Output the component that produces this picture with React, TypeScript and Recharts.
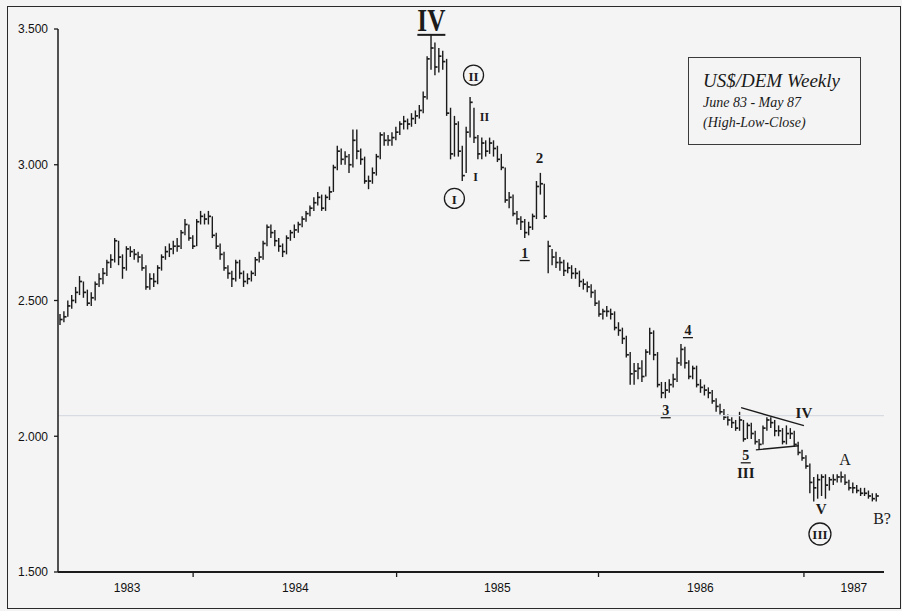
import { ComposedChart, Bar, XAxis, YAxis, ReferenceDot, ReferenceLine } from 'recharts';

// weekly US$/DEM, week 0 = late May 1983
const CLOSE = [
  2.43, 2.44, 2.48, 2.50, 2.53, 2.57, 2.53, 2.49, 2.51, 2.56,
  2.58, 2.60, 2.64, 2.65, 2.72, 2.66, 2.62, 2.69, 2.68, 2.67,
  2.66, 2.62, 2.55, 2.58, 2.57, 2.62, 2.66, 2.68, 2.69, 2.70,
  2.70, 2.75, 2.78, 2.73, 2.70, 2.79, 2.81, 2.80, 2.81, 2.74,
  2.70, 2.67, 2.62, 2.60, 2.58, 2.64, 2.60, 2.57, 2.58, 2.60,
  2.65, 2.66, 2.71, 2.77, 2.75, 2.72, 2.70, 2.68, 2.73, 2.75,
  2.76, 2.78, 2.80, 2.82, 2.84, 2.86, 2.88, 2.84, 2.88, 2.90,
  2.99, 3.05, 3.02, 3.03, 3.00, 3.09, 3.05, 3.02, 2.94, 2.94,
  2.97, 3.03, 3.11, 3.09, 3.09, 3.10, 3.12, 3.15, 3.16, 3.15,
  3.17, 3.18, 3.20, 3.25, 3.39, 3.43, 3.36, 3.40, 3.38, 3.19,
  3.04, 3.15, 3.05, 2.96, 3.12, 3.23, 3.10, 3.04, 3.08, 3.05,
  3.08, 3.06, 3.02, 2.99, 2.87, 2.88, 2.82, 2.80, 2.79, 2.75,
  2.77, 2.81, 2.92, 2.93, 2.81, 2.70, 2.66, 2.64, 2.64, 2.61,
  2.62, 2.60, 2.60, 2.57, 2.56, 2.55, 2.53, 2.49, 2.45, 2.46,
  2.46, 2.45, 2.40, 2.39, 2.36, 2.30, 2.23, 2.24, 2.25, 2.22,
  2.31, 2.38, 2.30, 2.19, 2.16, 2.17, 2.19, 2.21, 2.27, 2.32,
  2.27, 2.22, 2.25, 2.19, 2.18, 2.17, 2.16, 2.13, 2.11, 2.09,
  2.07, 2.06, 2.05, 2.03, 2.06, 1.99, 2.04, 2.01, 1.98, 1.97,
  2.03, 2.06, 2.05, 2.02, 2.02, 1.98, 2.01, 2.01, 1.97, 1.94,
  1.92, 1.89, 1.83, 1.81, 1.84, 1.85, 1.82, 1.84, 1.84, 1.85,
  1.85, 1.83, 1.81, 1.81, 1.80, 1.79, 1.79, 1.78, 1.77, 1.78,
];

const HIGH = [
  2.45, 2.46, 2.50, 2.52, 2.55, 2.59, 2.57, 2.54, 2.53, 2.57,
  2.60, 2.62, 2.65, 2.67, 2.73, 2.72, 2.67, 2.70, 2.70, 2.69,
  2.68, 2.67, 2.63, 2.60, 2.60, 2.63, 2.67, 2.70, 2.71, 2.72,
  2.73, 2.76, 2.80, 2.78, 2.74, 2.80, 2.83, 2.82, 2.83, 2.81,
  2.75, 2.71, 2.68, 2.63, 2.61, 2.65, 2.65, 2.61, 2.60, 2.61,
  2.66, 2.68, 2.72, 2.78, 2.78, 2.76, 2.73, 2.71, 2.74, 2.76,
  2.78, 2.79, 2.81, 2.83, 2.85, 2.88, 2.90, 2.89, 2.89, 2.92,
  3.00, 3.07, 3.06, 3.05, 3.04, 3.13, 3.13, 3.06, 3.03, 2.96,
  2.99, 3.04, 3.12, 3.12, 3.11, 3.12, 3.14, 3.16, 3.18, 3.17,
  3.19, 3.20, 3.22, 3.27, 3.40, 3.48, 3.45, 3.43, 3.42, 3.39,
  3.21, 3.18, 3.16, 3.07, 3.14, 3.25, 3.21, 3.11, 3.10, 3.09,
  3.10, 3.09, 3.07, 3.04, 2.99, 2.90, 2.89, 2.83, 2.81, 2.80,
  2.79, 2.82, 2.94, 2.97, 2.93, 2.72, 2.69, 2.68, 2.66, 2.65,
  2.64, 2.63, 2.62, 2.61, 2.58, 2.57, 2.56, 2.54, 2.50, 2.47,
  2.48, 2.47, 2.46, 2.42, 2.40, 2.37, 2.31, 2.27, 2.27, 2.28,
  2.32, 2.40, 2.39, 2.31, 2.20, 2.20, 2.21, 2.23, 2.29, 2.34,
  2.33, 2.28, 2.26, 2.26, 2.21, 2.19, 2.18, 2.17, 2.14, 2.12,
  2.10, 2.08, 2.07, 2.06, 2.09, 2.06, 2.05, 2.05, 2.02, 1.99,
  2.04, 2.07, 2.07, 2.06, 2.04, 2.03, 2.04, 2.03, 2.02, 1.98,
  1.95, 1.93, 1.90, 1.85, 1.86, 1.86, 1.86, 1.85, 1.86, 1.86,
  1.87, 1.86, 1.84, 1.83, 1.82, 1.81, 1.81, 1.80, 1.79, 1.79,
];

const LOW = [
  2.41, 2.42, 2.44, 2.47, 2.49, 2.52, 2.51, 2.48, 2.48, 2.50,
  2.55, 2.56, 2.59, 2.62, 2.64, 2.63, 2.58, 2.61, 2.66, 2.65,
  2.64, 2.61, 2.54, 2.54, 2.55, 2.56, 2.61, 2.65, 2.66, 2.67,
  2.68, 2.69, 2.74, 2.72, 2.69, 2.70, 2.78, 2.78, 2.78, 2.73,
  2.69, 2.65, 2.61, 2.58, 2.55, 2.57, 2.58, 2.55, 2.56, 2.57,
  2.59, 2.64, 2.65, 2.70, 2.73, 2.70, 2.68, 2.66, 2.67, 2.72,
  2.73, 2.75, 2.77, 2.79, 2.81, 2.83, 2.85, 2.83, 2.83, 2.87,
  2.90, 2.98, 3.00, 3.00, 2.97, 2.99, 3.02, 3.00, 2.93, 2.91,
  2.93, 2.96, 3.02, 3.07, 3.07, 3.07, 3.09, 3.11, 3.13, 3.13,
  3.14, 3.15, 3.17, 3.19, 3.24, 3.35, 3.33, 3.34, 3.35, 3.18,
  3.02, 3.03, 3.03, 2.94, 2.97, 3.10, 3.08, 3.02, 3.02, 3.03,
  3.04, 3.03, 3.01, 2.98, 2.86, 2.84, 2.81, 2.78, 2.76, 2.73,
  2.74, 2.76, 2.80, 2.89, 2.80, 2.60, 2.63, 2.62, 2.61, 2.59,
  2.60, 2.58, 2.58, 2.55, 2.54, 2.53, 2.51, 2.48, 2.44, 2.43,
  2.44, 2.43, 2.39, 2.37, 2.34, 2.29, 2.19, 2.19, 2.21, 2.20,
  2.22, 2.30, 2.28, 2.18, 2.14, 2.14, 2.16, 2.18, 2.20, 2.26,
  2.25, 2.21, 2.21, 2.18, 2.16, 2.15, 2.14, 2.12, 2.09, 2.08,
  2.06, 2.04, 2.03, 2.02, 2.02, 1.98, 1.99, 1.99, 1.97, 1.95,
  1.97, 2.02, 2.03, 2.00, 2.00, 1.97, 1.97, 1.99, 1.96, 1.93,
  1.91, 1.88, 1.79, 1.76, 1.77, 1.78, 1.77, 1.80, 1.82, 1.83,
  1.83, 1.82, 1.80, 1.79, 1.79, 1.78, 1.78, 1.77, 1.76, 1.76,
];

// x axis: week of each Jan 1 and the week where each year label sits
const YEAR_STARTS = [34.1, 86.2, 137.9, 190.5];
const YEAR_LABELS = ['1983', '1984', '1985', '1986', '1987'];
const YEAR_LABEL_WEEKS = [17.2, 60.3, 112, 164, 203.3];
const Y_TICKS = [1.5, 2, 2.5, 3, 3.5];

// Elliott wave labels (week, price)
const WAVE_LABELS = [
  { text: 'IV', week: 95.1, value: 3.53, kind: 'big' },
  { text: 'II', week: 105.9, value: 3.33, kind: 'circle' },
  { text: 'II', week: 108.7, value: 3.175, kind: 'small' },
  { text: 'I', week: 106.4, value: 2.954, kind: 'small' },
  { text: 'I', week: 101, value: 2.876, kind: 'circle' },
  { text: '2', week: 122.8, value: 3.024, kind: 'num' },
  { text: '1', week: 119, value: 2.673, kind: 'under' },
  { text: '4', week: 160.8, value: 2.389, kind: 'under' },
  { text: '3', week: 155.1, value: 2.094, kind: 'under' },
  { text: 'IV', week: 190.5, value: 2.087, kind: 'mid' },
  { text: '5', week: 175.6, value: 1.928, kind: 'under' },
  { text: 'III', week: 175.6, value: 1.865, kind: 'mid' },
  { text: 'V', week: 194.9, value: 1.732, kind: 'mid' },
  { text: 'III', week: 194.6, value: 1.64, kind: 'circle' },
  { text: 'A', week: 201, value: 1.913, kind: 'letter' },
  { text: 'B?', week: 210.5, value: 1.696, kind: 'letter' },
];

// triangle boundaries of wave IV
const TRIANGLE = [
  [{ x: 174.4, y: 2.105 }, { x: 190.5, y: 2.039 }],
  [{ x: 178.2, y: 1.95 }, { x: 189.2, y: 1.965 }],
];

const data = CLOSE.map((close, i) => ({
  week: i,
  range: [LOW[i], HIGH[i]],
  high: HIGH[i],
  low: LOW[i],
  close,
}));

const INK = '#1b1b1b';
const SERIF = '"Liberation Serif", "Times New Roman", serif';
const SANS = '"Liberation Sans", Arial, sans-serif';

function HlcBar(props: any) {
  const { x, y, width, height, payload } = props;
  if (x == null || y == null) return null;
  const top = Math.min(y, y + height);
  const h = Math.abs(height);
  const cx = x + width / 2;
  const span = payload.high - payload.low;
  const cy = top + (span > 0 ? (h * (payload.high - payload.close)) / span : 0);
  return (
    <g>
      <line x1={cx} x2={cx} y1={top} y2={top + h} stroke={INK} strokeWidth={1.4} />
      <line x1={cx} x2={cx + 2.6} y1={cy} y2={cy} stroke={INK} strokeWidth={1.7} />
    </g>
  );
}

function YearTick(props: any) {
  const { x, y, payload } = props;
  const idx = YEAR_LABEL_WEEKS.indexOf(payload.value);
  if (idx >= 0) {
    return (
      <text x={x} y={y + 20} textAnchor="middle" fontSize={12} fontFamily={SANS} fill="#111">
        {YEAR_LABELS[idx]}
      </text>
    );
  }
  return <line x1={x} x2={x} y1={y} y2={y + 5} stroke={INK} strokeWidth={1.3} />;
}

function WaveMark(props: any) {
  const { cx, cy, label } = props;
  if (cx == null || cy == null) return null;
  const common = { textAnchor: 'middle' as const, dominantBaseline: 'central' as const, fill: INK, fontFamily: SERIF };
  if (label.kind === 'big') {
    return (
      <g>
        <text x={cx} y={cy} {...common} fontSize={31} fontWeight="bold" textLength={28} lengthAdjust="spacingAndGlyphs">
          {label.text}
        </text>
        <line x1={cx - 14} x2={cx + 14} y1={cy + 14} y2={cy + 14} stroke={INK} strokeWidth={2} />
      </g>
    );
  }
  if (label.kind === 'circle') {
    const r = label.text.length > 2 ? 11 : 10;
    return (
      <g>
        <circle cx={cx} cy={cy} r={r} fill="none" stroke={INK} strokeWidth={1.3} />
        <text x={cx} y={cy + 1} {...common} fontSize={13} fontWeight="bold">
          {label.text}
        </text>
      </g>
    );
  }
  if (label.kind === 'under') {
    return (
      <g>
        <text x={cx} y={cy} {...common} fontSize={14} fontWeight="bold">
          {label.text}
        </text>
        <line x1={cx - 5} x2={cx + 5} y1={cy + 7} y2={cy + 7} stroke={INK} strokeWidth={1.3} />
      </g>
    );
  }
  const size = label.kind === 'small' ? 12 : label.kind === 'letter' ? 16 : 15;
  const weight = label.kind === 'letter' ? 'normal' : 'bold';
  return (
    <text x={cx} y={cy} {...common} fontSize={size} fontWeight={weight}>
      {label.text}
    </text>
  );
}

export default function App() {
  return (
    <div style={{ position: 'absolute', left: 0, top: 0, width: 902, height: 611, background: '#f4f4f4' }}>
      <div
        style={{
          position: 'absolute',
          left: 7,
          top: 6,
          width: 892,
          height: 601,
          border: '1.5px solid #2a2a2a',
        }}
      />
      <div style={{ position: 'absolute', left: 0, top: 0 }}>
        <ComposedChart width={902} height={611} data={data} margin={{ top: 29, right: 18, bottom: 9, left: 8 }}>
          <XAxis
            dataKey="week"
            type="number"
            domain={[-0.5, 211]}
            ticks={[...YEAR_STARTS, ...YEAR_LABEL_WEEKS]}
            tick={<YearTick />}
            tickLine={false}
            tickSize={0}
            tickMargin={0}
            height={30}
            axisLine={{ stroke: INK, strokeWidth: 2 }}
            interval={0}
            allowDataOverflow
          />
          <YAxis
            type="number"
            domain={[1.5, 3.5]}
            ticks={Y_TICKS}
            tickFormatter={(v: number) => v.toFixed(3)}
            width={50}
            tickSize={4}
            tickMargin={6}
            tick={{ fontSize: 12, fontFamily: SANS, fill: '#111' }}
            tickLine={{ stroke: INK, strokeWidth: 1.3 }}
            axisLine={{ stroke: INK, strokeWidth: 1.5 }}
            allowDataOverflow
          />
          <ReferenceLine y={2.076} stroke="#d9dbe3" strokeWidth={1.2} />
          <Bar dataKey="range" barSize={2} shape={<HlcBar />} isAnimationActive={false} />
          {TRIANGLE.map((seg, i) => (
            <ReferenceLine key={i} segment={seg} stroke={INK} strokeWidth={1.3} ifOverflow="visible" />
          ))}
          {WAVE_LABELS.map((w, i) => (
            <ReferenceDot
              key={i}
              x={w.week}
              y={w.value}
              r={0}
              ifOverflow="visible"
              shape={(p: any) => <WaveMark {...p} label={w} />}
            />
          ))}
        </ComposedChart>
      </div>
      <svg style={{ position: 'absolute', left: 0, top: 0 }} width={902} height={611}>
        <rect x={688.5} y={57.5} width={172} height={87} fill="none" stroke="#3a3a3a" strokeWidth={1} />
        <text x={703} y={87} fontFamily={SERIF} fontStyle="italic" fontSize={19} fill="#1a1a1a">
          US$/DEM Weekly
        </text>
        <text x={703} y={107} fontFamily={SERIF} fontStyle="italic" fontSize={14} fill="#1a1a1a">
          June 83 - May 87
        </text>
        <text x={703} y={127} fontFamily={SERIF} fontStyle="italic" fontSize={14} fill="#1a1a1a">
          (High-Low-Close)
        </text>
      </svg>
    </div>
  );
}
